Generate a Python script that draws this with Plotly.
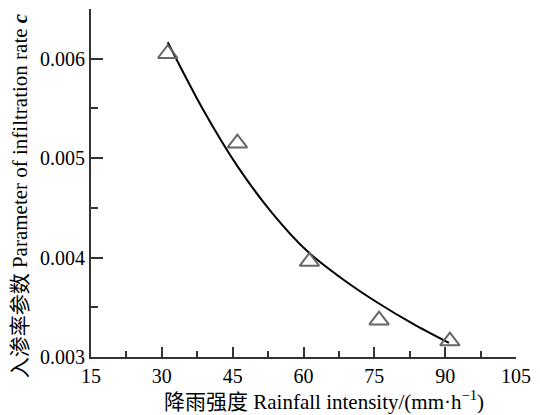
import plotly.graph_objects as go

# Observed data points
rain_obs = [31.25, 46.0, 61.25, 76.0, 91.0]
c_obs = [0.00605, 0.00515, 0.00396, 0.00337, 0.00316]

# Fitted curve
rain_fit = [31.25, 38.6, 46.0, 53.5, 61.0, 68.4, 75.8, 83.3, 90.8]
c_fit = [0.006166, 0.00550, 0.00492, 0.00444, 0.004055, 0.00378, 0.003543, 0.00333, 0.003141]

x_ticks = [15, 30, 45, 60, 75, 90, 105]
y_ticks = [0.003, 0.004, 0.005, 0.006]

x_title = "降雨强度 Rainfall intensity/(mm·h<sup>−1</sup>)"
y_title = "入渗率参数 Parameter of infiltration rate <b><i>c</i></b>"

serif = "Liberation Serif, Times New Roman, Noto Sans CJK SC, serif"

fig = go.Figure()
fig.add_trace(go.Scatter(x=rain_fit, y=c_fit, mode="lines",
                         line=dict(color="black", width=2, shape="spline", smoothing=0.8),
                         showlegend=False, hoverinfo="skip"))
fig.add_trace(go.Scatter(x=rain_obs, y=c_obs, mode="markers",
                         marker=dict(symbol="triangle-up-open", size=17,
                                     color="#666666", line=dict(width=2, color="#666666")),
                         showlegend=False))

# plot area: x 91..524 px, y 9..357 px
fig.add_annotation(text=x_title, xref="paper", yref="paper", x=(328 - 91) / 433, y=(357 - 400) / 348,
                   xanchor="center", yanchor="middle", showarrow=False, font=dict(size=21))
fig.add_annotation(text=y_title, xref="paper", yref="paper", x=(19 - 91) / 433, y=(357 - 196) / 348,
                   xanchor="center", yanchor="middle", textangle=-90, showarrow=False, font=dict(size=21))

fig.update_layout(
    width=540, height=415,
    margin=dict(l=91, r=16, t=9, b=58),
    paper_bgcolor="white", plot_bgcolor="white",
    font=dict(family=serif, size=20, color="black"),
    xaxis=dict(range=[15, 105], tickvals=x_ticks, ticktext=[str(v) for v in x_ticks],
               showline=True, linecolor="#333333", linewidth=2, showgrid=False, zeroline=False,
               ticks="inside", ticklen=10, tickwidth=2, tickcolor="#333333",
               minor=dict(ticks="inside", ticklen=6, tickwidth=2, tickcolor="#333333", dtick=7.5, tick0=15, showgrid=False),
               tickfont=dict(size=20)),
    yaxis=dict(range=[0.003, 0.0065], tickvals=y_ticks, ticktext=["%.3f" % v for v in y_ticks],
               showline=True, linecolor="#333333", linewidth=2, showgrid=False, zeroline=False,
               ticks="inside", ticklen=12, tickwidth=2, tickcolor="#333333",
               minor=dict(ticks="inside", ticklen=7, tickwidth=2, tickcolor="#333333", dtick=0.0005, tick0=0.003, showgrid=False),
               tickfont=dict(size=20)),
)

fig.write_html("out.html")
